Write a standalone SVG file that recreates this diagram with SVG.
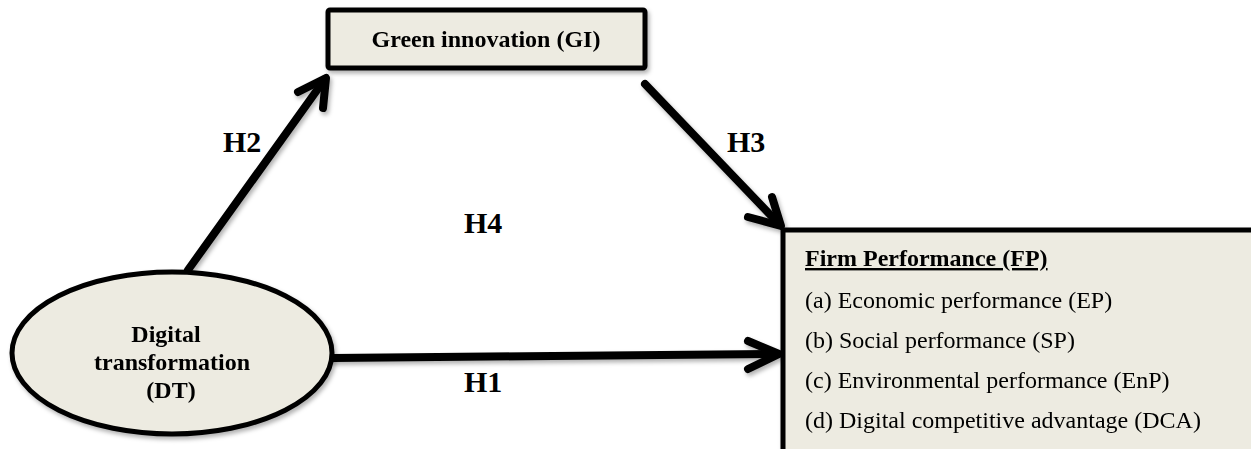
<svg xmlns="http://www.w3.org/2000/svg" width="1251" height="449" viewBox="0 0 1251 449">
  <defs>
    <filter id="shadow" x="-10%" y="-10%" width="130%" height="130%">
      <feDropShadow dx="2" dy="3" stdDeviation="2" flood-color="#000" flood-opacity="0.3"/>
    </filter>
  </defs>
  <style>
    .node { fill: #EDEBE1; stroke: #000; stroke-width: 5; }
    .bold { font-family: "Liberation Serif", "Times New Roman", serif; font-weight: bold; font-size: 24px; fill: #000; }
    .reg { font-family: "Liberation Serif", "Times New Roman", serif; font-size: 24px; fill: #000; }
    .hlabel { font-family: "Liberation Serif", "Times New Roman", serif; font-weight: bold; font-size: 30px; fill: #000; }
    .conn { fill: none; stroke: #000; stroke-width: 8; stroke-linecap: round; stroke-linejoin: round; }
  </style>
  <rect width="1251" height="449" fill="#fff"/>

  <g id="connectors" filter="url(#shadow)">
    <g id="H2-arrow">
      <path class="conn" d="M188,270 L325,79"/>
      <path class="conn" d="M298,92 L326,78 L323,108"/>
    </g>
    <g id="H3-arrow">
      <path class="conn" d="M645,84 L779,224"/>
      <path class="conn" d="M748,217 L781,226 L772,197"/>
    </g>
    <g id="H1-arrow">
      <path class="conn" d="M333,358 L777,354"/>
      <path class="conn" d="M748,341 L779,354 L748,369"/>
    </g>
  </g>

  <g id="node-GI" filter="url(#shadow)">
    <rect class="node" x="328" y="10" width="317" height="58" rx="2"/>
    <text class="bold" x="486" y="47" text-anchor="middle">Green innovation (GI)</text>
  </g>

  <g id="node-DT" filter="url(#shadow)">
    <ellipse class="node" cx="172" cy="353" rx="160" ry="81"/>
    <text class="bold" x="166" y="342" text-anchor="middle">Digital</text>
    <text class="bold" x="172" y="370" text-anchor="middle">transformation</text>
    <text class="bold" x="171" y="398" text-anchor="middle">(DT)</text>
  </g>

  <g id="node-FP" filter="url(#shadow)">
    <rect class="node" x="783" y="230" width="490" height="240"/>
    <text class="bold" x="805" y="266" text-decoration="underline">Firm Performance (FP)</text>
    <text class="reg" x="805" y="308">(a) Economic performance (EP)</text>
    <text class="reg" x="805" y="348">(b) Social performance (SP)</text>
    <text class="reg" x="805" y="388">(c) Environmental performance (EnP)</text>
    <text class="reg" x="805" y="428">(d) Digital competitive advantage (DCA)</text>
  </g>

  <g id="labels">
    <text class="hlabel" x="223" y="152">H2</text>
    <text class="hlabel" x="727" y="152">H3</text>
    <text class="hlabel" x="464" y="233">H4</text>
    <text class="hlabel" x="464" y="392">H1</text>
  </g>
</svg>
